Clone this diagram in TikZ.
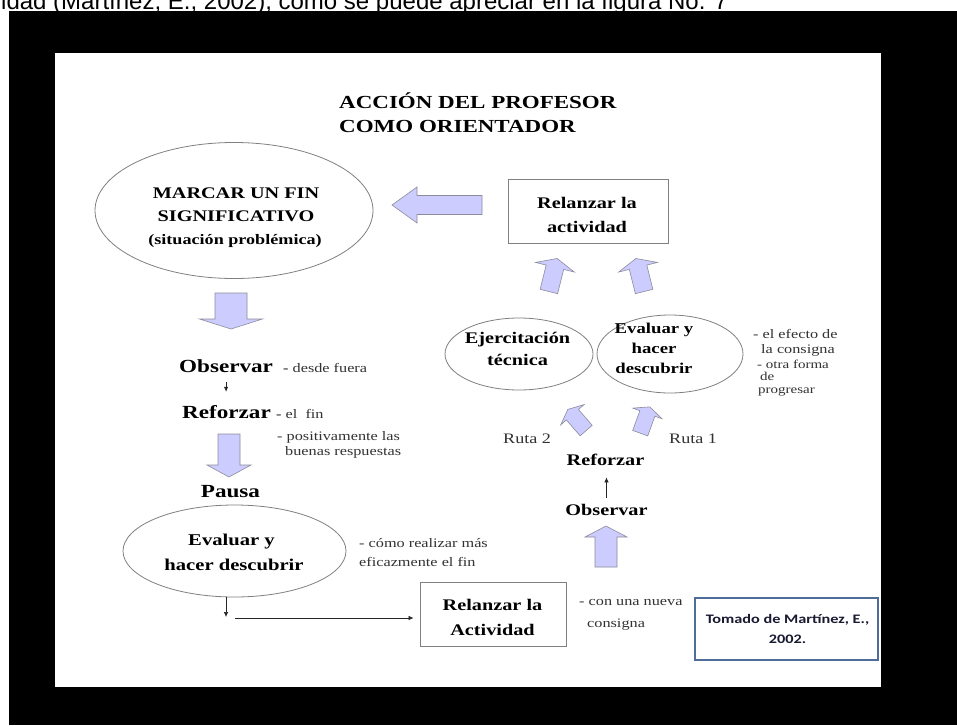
\documentclass[tikz,border=0pt]{standalone}
\usepackage{fontspec}
\setmainfont{Liberation Serif}[FakeStretch=1.25]
\newfontfamily\citefont{Carlito}[FakeStretch=1.25]
\newfontfamily\topfont{Liberation Sans}
\usetikzlibrary{arrows.meta,shapes.geometric}
\definecolor{lav}{RGB}{204,204,255}
\definecolor{lavedge}{RGB}{140,140,155}
\definecolor{edgegray}{RGB}{128,128,128}
\definecolor{notegray}{RGB}{50,50,50}
\definecolor{citeblue}{RGB}{79,109,154}
\definecolor{citetext}{RGB}{25,25,50}
% block arrow: x, y (centre), rotation, length, shaft width, head width, head length
\newcommand{\blkarrow}[7]{%
  \begin{scope}[shift={(#1,#2)},rotate=#3]
    \draw[blk] (-#5/2,#4/2) -- (-#5/2,-#4/2+#7) -- (-#6/2,-#4/2+#7) -- (0,-#4/2)
      -- (#6/2,-#4/2+#7) -- (#5/2,-#4/2+#7) -- (#5/2,#4/2) -- cycle;
  \end{scope}}
\tikzset{
  txt/.style={inner sep=0pt, anchor=base, text=black},
  bA/.style={txt, font=\fontsize{18.4}{22}\selectfont\bfseries},
  bB/.style={txt, font=\fontsize{16.2}{19}\selectfont\bfseries},
  bC/.style={txt, font=\fontsize{14.5}{17}\selectfont\bfseries},
  bD/.style={txt, font=\fontsize{18.5}{22}\selectfont\bfseries},
  bE/.style={txt, font=\fontsize{15}{18}\selectfont\bfseries},
  bF/.style={txt, font=\fontsize{16.5}{19}\selectfont\bfseries},
  note/.style={txt, anchor=base west, text=notegray, font=\fontsize{13}{15}\selectfont},
  notes/.style={note, font=\fontsize{12}{14}\selectfont},
  ruta/.style={txt, anchor=base west, text=notegray, font=\fontsize{14.5}{17}\selectfont},
  ovalshape/.style={draw=edgegray, line width=0.8pt, ellipse, fill=white, inner sep=0pt},
  boxshape/.style={draw=edgegray, line width=0.8pt, rectangle, fill=white, inner sep=0pt},
  blk/.style={draw=lavedge, line width=0.6pt, fill=lav, line join=miter},
  thinarr/.style={draw=black!85, line width=0.7pt, -{Latex[length=5pt,width=4.5pt]}},
}
\begin{document}
\begin{tikzpicture}[x=1pt,y=-1pt]
\useasboundingbox (0,0) rectangle (957,725);
\clip (0,0) rectangle (957,725);
\fill[white] (0,0) rectangle (957,725);
\fill[black] (9,11) rectangle (957,725);
\fill[white] (55,53) rectangle (881,687);

\node[anchor=base west, inner sep=0pt, font=\topfont\fontsize{24}{28}\selectfont] (toptext) at (1,9.5)
  {idad (Martínez, E., 2002), como se puede apreciar en la figura No. 7};

% title
\node[bA, anchor=base west] (t1) at (339,108) {ACCIÓN DEL PROFESOR};
\node[bA, anchor=base west] (t2) at (339,132) {COMO ORIENTADOR};

% marcar un fin
\node[ovalshape, minimum width=278pt, minimum height=136pt] (marcar) at (234,210.5) {};
\node[bB] (m1) at (236,198) {MARCAR UN FIN};
\node[bB] (m2) at (236,221) {SIGNIFICATIVO};
\node[bC] (m3) at (235,244) {(situación problémica)};

\blkarrow{437}{205}{90}{90}{19}{36}{25}

% relanzar (top)
\node[boxshape, minimum width=160pt, minimum height=64pt] (relA) at (588,211) {};
\node[bB] (r1) at (587,208) {Relanzar la};
\node[bB] (r2) at (587,232) {actividad};

\blkarrow{553}{275}{-14}{34}{18}{40}{9}
\blkarrow{640}{275}{14}{34}{18}{40}{9}

% right ellipses
\node[ovalshape, minimum width=148pt, minimum height=72pt] (ejer) at (519,354) {};
\node[bB] (e1) at (517.5,343) {Ejercitación};
\node[bB] (e2) at (517.5,365) {técnica};
\node[ovalshape, minimum width=146pt, minimum height=78pt] (evalR) at (670,354) {};
\node[bE] (v1) at (654,333) {Evaluar y};
\node[bE] (v2) at (654,353) {hacer};
\node[bE] (v3) at (654,373) {descubrir};

\node[note] (n1) at (753,338) {- el efecto de};
\node[note] (n2) at (761,353) {la consigna};
\node[notes] (n3) at (757,368) {- otra forma};
\node[notes] (n4) at (760,380) {de};
\node[notes] (n5) at (758,393) {progresar};

% rutas
\blkarrow{577}{420}{41}{28}{16}{31}{7}
\blkarrow{645}{420}{-20}{28}{16}{31}{7}
\node[ruta] (ruta2) at (503,443) {Ruta 2};
\node[ruta] (ruta1) at (669,443) {Ruta 1};

\node[bB] (refR) at (605.5,465) {Reforzar};
\node[bB] (obsR) at (606.5,515) {Observar};
\draw[thinarr, shorten <=6pt, shorten >=12pt] (obsR.north) -- (obsR.north |- refR.south);

\blkarrow{606}{546.5}{0}{41}{22}{42}{11}

% relanzar (bottom)
\node[boxshape, minimum width=146pt, minimum height=64pt] (relB) at (493,614) {};
\node[bB] (s1) at (492.5,610) {Relanzar la};
\node[bB] (s2) at (492.5,635) {Actividad};
\node[note] (c1) at (579,605) {- con una nueva};
\node[note] (c2) at (587,627) {consigna};

% citation
\node[draw=citeblue, line width=1.5pt, fill=white, inner sep=0pt,
      minimum width=183pt, minimum height=62pt] (cite) at (786.5,629) {};
\node[txt, font=\citefont\fontsize{13}{15}\selectfont\bfseries, text=citetext] (ct1) at (787.5,623) {Tomado de Martínez, E.,};
\node[txt, font=\citefont\fontsize{13}{15}\selectfont\bfseries, text=citetext] (ct2) at (787.5,643) {2002.};

% left column
\blkarrow{231}{311}{180}{36}{32}{63}{10}
\node[bD, anchor=base west] (obsL) at (179,372) {Observar};
\node[note] (obsLn) at (283,372) {{\bfseries -} desde fuera};
\node[bD, anchor=base west] (refL) at (182,418) {Reforzar};
\node[note] (refLn) at (276,418) {{\bfseries -} el\ \ fin};
\draw[thinarr, shorten <=10pt, shorten >=13pt] (obsL.south) -- (obsL.south |- refL.north);
\node[note] (p1) at (277,440) {- positivamente las};
\node[note] (p2) at (285,455) {buenas respuestas};

\blkarrow{229}{455.5}{180}{43}{22}{44}{12}
\node[bD] (pausa) at (230.5,497) {Pausa};

\node[ovalshape, minimum width=223pt, minimum height=92pt] (evalL) at (234.5,551) {};
\node[bF] (l1) at (231.5,545) {Evaluar y};
\node[bF] (l2) at (234,570) {hacer descubrir};
\node[note] (k1) at (359,547) {- cómo realizar más};
\node[note] (k2) at (359,566) {eficazmente el fin};

\coordinate (d1) at (226,617);
\draw[thinarr] (evalL.south -| d1) -- (d1);
\coordinate (h1) at (235,618);
\draw[thinarr, shorten >=6pt] (h1) -- (h1 -| relB.west);
\end{tikzpicture}
\end{document}
